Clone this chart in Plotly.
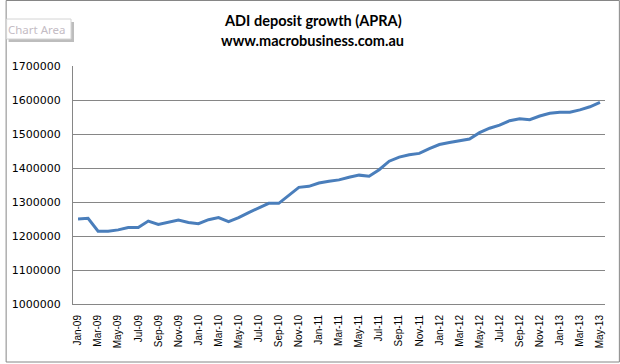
import plotly.graph_objects as go

months = ["Jan", "Feb", "Mar", "Apr", "May", "Jun", "Jul", "Aug", "Sep", "Oct", "Nov", "Dec"]
categories = [f"{m}-{y:02d}" for y in range(9, 14) for m in months][:53]

deposits = [
    1250000, 1252000, 1214000, 1214000, 1218000, 1225000, 1225000, 1244000, 1234000, 1241000, 1247000, 1240000,
    1236000, 1248000, 1254000, 1242000, 1254000, 1269000, 1282000, 1296000, 1296000, 1320000, 1343000, 1346000,
    1356000, 1361000, 1365000, 1373000, 1379000, 1376000, 1395000, 1420000, 1432000, 1439000, 1443000, 1457000,
    1469000, 1475000, 1481000, 1485000, 1504000, 1517000, 1526000, 1539000, 1545000, 1542000, 1553000, 1561000,
    1564000, 1564000, 1571000, 1580000, 1593000,
]

x_ticks = categories[::2]
y_ticks = [1000000, 1100000, 1200000, 1300000, 1400000, 1500000, 1600000, 1700000]
y_tick_labels = [str(v) for v in y_ticks]

title_line1 = "ADI deposit growth (APRA)"
title_line2 = "www.macrobusiness.com.au"

W, H = 620, 364
L, R, T, B = 68, 15, 66, 60
pw, ph = W - L - R, H - T - B


def px(x):
    return (x - L) / pw


def py(y):
    return (H - B - y) / ph


fig = go.Figure()
fig.add_trace(go.Scatter(
    x=categories, y=deposits, mode="lines",
    line=dict(color="#4a7ebb", width=3), hoverinfo="skip", showlegend=False,
))

fig.update_layout(
    width=W, height=H,
    margin=dict(l=L, r=R, t=T, b=B),
    paper_bgcolor="white", plot_bgcolor="white",
    showlegend=False,
    xaxis=dict(
        type="category", tickmode="array", tickvals=x_ticks, ticktext=x_ticks,
        tickangle=-90, showgrid=False, showline=True, linecolor="#868686", linewidth=1,
        ticks="", tickfont=dict(family="Liberation Sans Narrow, Liberation Sans", size=10, color="#000000"),
        ticklabelstandoff=6, range=[-0.5, len(categories) - 0.5],
    ),
    yaxis=dict(
        range=[1000000, 1700000], tickmode="array", tickvals=y_ticks, ticktext=y_tick_labels,
        showgrid=True, gridcolor="#868686", gridwidth=1, showline=True, linecolor="#868686",
        linewidth=1, ticks="", zeroline=False,
        tickfont=dict(family="DejaVu Sans", size=11, color="#000000"), ticklabelstandoff=9,
    ),
    annotations=[
        dict(text=f"<b>{title_line1}</b>", x=px(310), y=py(20), xref="paper", yref="paper",
             showarrow=False, xanchor="center", yanchor="middle",
             font=dict(family="Lato", size=14.5, color="#000000")),
        dict(text=f"<b>{title_line2}</b>", x=px(310), y=py(41), xref="paper", yref="paper",
             showarrow=False, xanchor="center", yanchor="middle",
             font=dict(family="Lato", size=14.5, color="#000000")),
        dict(text="Chart Area", x=px(32), y=py(29), xref="paper", yref="paper",
             showarrow=False, xanchor="center", yanchor="middle",
             font=dict(family="Noto Sans", size=11.5, color="#c4bcc4")),
    ],
    shapes=[
        dict(type="rect", xref="paper", yref="paper", x0=px(0.5), x1=px(619.5), y0=py(362), y1=py(0.5),
             line=dict(color="#868686", width=1), fillcolor="rgba(0,0,0,0)", layer="below"),
        dict(type="rect", xref="paper", yref="paper", x0=px(3), x1=px(69), y0=py(42), y1=py(22),
             line=dict(width=0), fillcolor="#bdbdbd", layer="below"),
        dict(type="rect", xref="paper", yref="paper", x0=px(1), x1=px(66), y0=py(39), y1=py(19),
             line=dict(color="#d4d4d4", width=1), fillcolor="white", layer="below"),
    ],
)

fig.write_html(
    "out.html",
    config={"displayModeBar": False, "staticPlot": True},
    post_script="document.body.style.margin='0';document.body.style.overflow='hidden';",
)
